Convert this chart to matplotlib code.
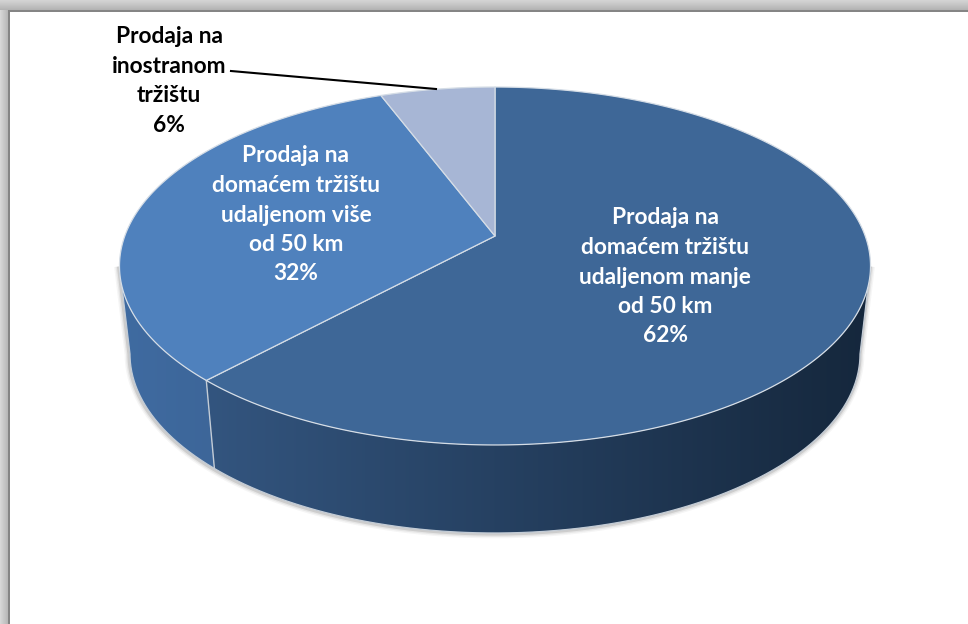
import numpy as np
import matplotlib
matplotlib.use('Agg')
import matplotlib.pyplot as plt
from matplotlib.patches import Polygon
from matplotlib.colors import LinearSegmentedColormap

# Slice shares in percent, clockwise from twelve o'clock
labels = ['Prodaja na\ndomaćem tržištu\nudaljenom manje\nod 50 km',
          'Prodaja na\ndomaćem tržištu\nudaljenom više\nod 50 km',
          'Prodaja na\ninostranom\ntržištu']
values = [62.0, 32.2, 5.8]
top_colors = ['#3e6797', '#4f81bd', '#a7b6d5']
side_colors = [('#33557f', '#15273c'), ('#3f6ba1', '#3d6699')]

plt.rcParams['font.family'] = ['Lato', 'DejaVu Sans']

W, H = 968, 624
fig = plt.figure(figsize=(W / 100, H / 100), dpi=100)
ax = fig.add_axes([0, 0, 1, 1])
ax.axis('off')

# Shadow round the chart area, then the frame
yy, xx = np.mgrid[0:H, 0:W]
shade = np.ones((H, W))
shade = np.where(yy < 10, 0.83 - 0.014 * yy, shade)
shade = np.where((xx < 8) & (yy >= 10), 0.84 - 0.017 * xx, shade)
shade = np.where((xx >= 8) & (xx < 10) & (yy >= 10), 0.52, shade)
shade = np.where((yy >= 10) & (yy < 12) & (xx >= 8), 0.52, shade)
ax.imshow(shade, cmap='gray', vmin=0, vmax=1, extent=(0, W, H, 0), aspect='auto', zorder=0)

# Pie seen in perspective: the circle is mapped so its centre sits above the ellipse middle
CX, CY = 495, 236
A, B, K = 370.2, 134.4, 0.1676
DEPTH = 88
SHRINK = 0.972


def rim(deg, lower=False):
    t = np.radians(deg)
    x, y = np.sin(t), np.cos(t)
    d = 1 + K * y
    px = A * x / d
    py = (CY - B * y) / d
    if lower:
        return CX + px * SHRINK, py + DEPTH
    return CX + px, py


def arc(a, b, lower=False):
    n = max(int(abs(b - a) * 2), 2)
    return np.column_stack(rim(np.linspace(a, b, n), lower))


bounds = np.concatenate([[0], np.cumsum(values)]) / sum(values) * 360

# Angles where the rim reaches its left and right extremes
right_ang = np.degrees(np.arccos(-K))
left_ang = 360 - right_ang

# Side walls
cuts = [(right_ang, bounds[1]), (bounds[1], left_ang)]
for (a, b), (c0, c1) in zip(cuts, side_colors):
    pts = np.vstack([arc(a, b), arc(b, a, lower=True)])
    cmap = LinearSegmentedColormap.from_list('side', [c0, c1])
    x0, x1 = pts[:, 0].min(), pts[:, 0].max()
    y0, y1 = pts[:, 1].min(), pts[:, 1].max()
    grad = np.linspace(0, 1, 256).reshape(1, -1)
    poly = Polygon(pts, closed=True, fc='none', ec='none', zorder=3)
    ax.add_patch(poly)
    im = ax.imshow(grad, cmap=cmap, extent=(x0, x1, y1, y0), aspect='auto', zorder=3)
    im.set_clip_path(poly)
ax.set_xlim(0, W)
ax.set_ylim(H, 0)

# Soft shadow below the wall, running up to the top rim on both sides
edge = np.vstack([arc(right_ang, right_ang, False)[:1], arc(right_ang, left_ang, lower=True),
                  arc(left_ang, left_ang, False)[:1]])
for lw, al in [(7, 0.05), (5, 0.08), (3, 0.15)]:
    ax.plot(edge[:, 0] - 0.5, edge[:, 1] + 0.5, color='#404040', lw=lw, alpha=al, zorder=2,
            solid_capstyle='butt')
ax.plot(edge[:, 0], edge[:, 1], color='#c3ccd6', lw=0.9, zorder=4, solid_capstyle='butt')

# Wall seam between the two visible slices
seam = np.array([rim(bounds[1]), rim(bounds[1], lower=True)])
ax.plot(seam[:, 0], seam[:, 1], color='#c3ccd6', lw=1.0, zorder=5)

# Top faces
for i, col in enumerate(top_colors):
    pts = np.vstack([[CX, CY], arc(bounds[i], bounds[i + 1])])
    ax.add_patch(Polygon(pts, closed=True, fc=col, ec='#d5dde6', lw=0.9, zorder=6,
                         joinstyle='round'))

# Leader line
ax.plot([231, 436], [71, 89], color='black', lw=1.5, zorder=7)

# Labels
label_pos = [(665, 277), (296, 215), (169, 81)]
label_cols = ['white', 'white', 'black']
for txt, v, (lx, ly), col in zip(labels, values, label_pos, label_cols):
    ax.text(lx, ly, f'{txt}\n{round(v)}%', color=col, fontsize=16.4, fontweight='bold',
            ha='center', va='center', linespacing=1.5, zorder=8)

fig.savefig('out.png', dpi=100)
